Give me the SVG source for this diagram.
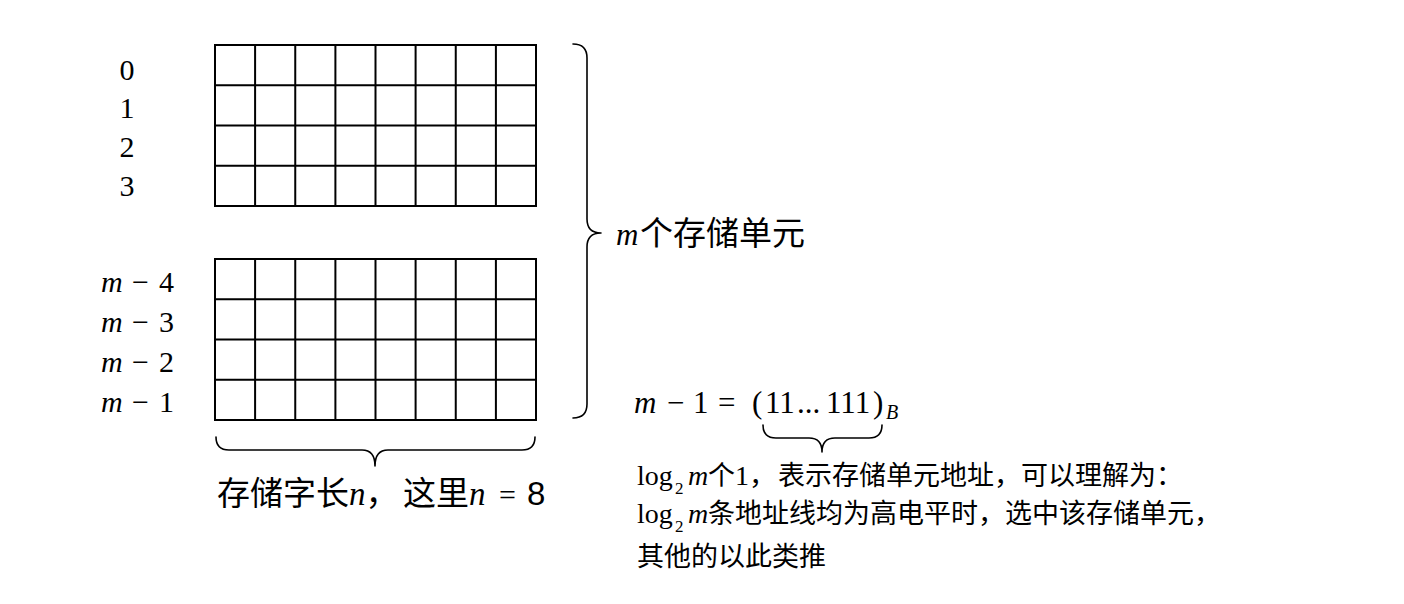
<svg xmlns="http://www.w3.org/2000/svg" width="1404" height="604" viewBox="0 0 1404 604">
<style>
.bg{fill:#fff}
.cell{fill:none;stroke:#000;stroke-width:2}
.brace{fill:none;stroke:#000;stroke-width:1.6;stroke-linejoin:round;stroke-linecap:round}
.num{font-family:"Liberation Serif",serif;fill:#000}
.mi{font-family:"Liberation Serif",serif;font-style:italic}
.mr{font-family:"Liberation Serif",serif;font-style:normal}
.cjk{font-family:"Noto Sans CJK SC","Noto Sans",sans-serif;fill:#000}
.sans{font-family:"Liberation Sans","Noto Sans CJK SC",sans-serif}
</style>
<defs>
<g id="grid">
<rect class="cell" x="215" y="0" width="321" height="161"/>
<path class="cell" d="M255.1,0V161M295.25,0V161M335.4,0V161M375.5,0V161M415.6,0V161M455.75,0V161M495.9,0V161M215,40.25H536M215,80.5H536M215,120.75H536"/>
</g>
</defs>
<rect class="bg" x="0" y="0" width="1404" height="604"/>

<g id="memory-top">
<use href="#grid" transform="translate(0,45)"/>
</g>
<g id="memory-bottom">
<use href="#grid" transform="translate(0,259)"/>
</g>

<g id="labels-top" class="num" font-size="30" text-anchor="middle">
<text x="127" y="80">0</text>
<text x="127" y="118">1</text>
<text x="127" y="157">2</text>
<text x="127" y="196">3</text>
</g>

<g id="labels-bottom" class="num" font-size="30">
<text y="292"><tspan class="mi" x="101">m</tspan><tspan class="mr" x="132">−</tspan><tspan class="mr" x="159">4</tspan></text>
<text y="332"><tspan class="mi" x="101">m</tspan><tspan class="mr" x="132">−</tspan><tspan class="mr" x="159">3</tspan></text>
<text y="372"><tspan class="mi" x="101">m</tspan><tspan class="mr" x="132">−</tspan><tspan class="mr" x="159">2</tspan></text>
<text y="412"><tspan class="mi" x="101">m</tspan><tspan class="mr" x="132">−</tspan><tspan class="mr" x="159">1</tspan></text>
</g>

<g id="connectors">
<path id="brace-word" class="brace" d="M216,437 Q216,450 229,450 L362,450 Q375,450 375,466 Q375,450 388,450 L522,450 Q535,450 535,437"/>
<path id="brace-units" class="brace" d="M573,44 Q587,44 587,58 L587,219 Q587,233 601,233 Q587,233 587,247 L587,404 Q587,418 573,418"/>
<path id="brace-bits" class="brace" d="M763,425 Q763,438 776,438 L809,438 Q822,438 822,452 Q822,438 835,438 L869,438 Q882,438 882,425"/>
</g>

<g id="label-word-length">
<text class="cjk" font-size="33" y="505"><tspan x="217">存储字长</tspan><tspan class="mi">n</tspan><tspan>，</tspan><tspan x="403">这里</tspan><tspan class="mi">n</tspan><tspan class="mr" font-size="30" x="499">=</tspan><tspan class="sans" x="527">8</tspan></text>
</g>

<g id="label-units">
<text class="cjk" font-size="33" y="245"><tspan class="mi" font-size="31" x="616">m</tspan><tspan x="640">个存储单元</tspan></text>
</g>

<g id="label-formula">
<text class="num" font-size="31" y="413"><tspan class="mi" x="634">m</tspan><tspan x="667">−</tspan><tspan x="693">1</tspan><tspan x="718">=</tspan><tspan x="752">(</tspan><tspan x="765">11</tspan><tspan x="797">...</tspan><tspan x="826">111</tspan><tspan x="873">)</tspan><tspan class="mi" font-size="20" x="886" y="419">B</tspan></text>
</g>

<g id="note">
<text class="cjk" font-size="27" y="485"><tspan class="mr" font-size="28" x="637">log</tspan><tspan class="mr" font-size="17" x="675" y="494">2</tspan><tspan class="mi" font-size="28" x="688" y="485">m</tspan><tspan x="708">个</tspan><tspan class="mr" font-size="28">1</tspan><tspan>，</tspan><tspan x="778">表示存储单元地址，可以理解为：</tspan></text>
<text class="cjk" font-size="27" y="523"><tspan class="mr" font-size="28" x="637">log</tspan><tspan class="mr" font-size="17" x="675" y="532">2</tspan><tspan class="mi" font-size="28" x="688" y="523">m</tspan><tspan x="708">条地址线均为高电平时，选中该存储单元，</tspan></text>
<text class="cjk" font-size="27" x="637" y="566">其他的以此类推</text>
</g>
</svg>
